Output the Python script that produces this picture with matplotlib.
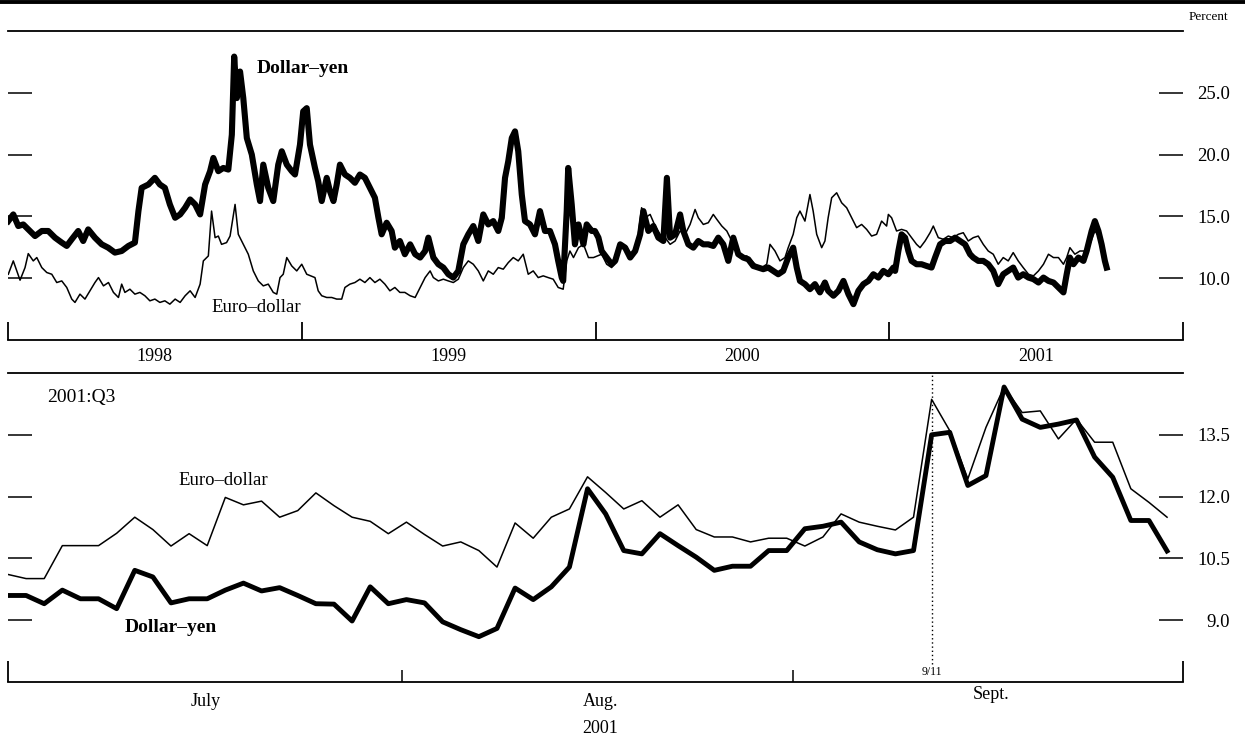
import numpy as np
import pandas as pd
import matplotlib
matplotlib.use('Agg')
import matplotlib.pyplot as plt
from matplotlib.lines import Line2D
from matplotlib.ticker import FormatStrFormatter

plt.rcParams['font.family'] = ['Liberation Serif', 'DejaVu Serif']

# ---- implied volatility, 1998 - 2001:Q3 (decimal year, percent) ----
dy_long_t = [
    1998.001, 1998.018, 1998.035, 1998.052, 1998.069, 1998.092, 1998.115, 1998.137,
    1998.160, 1998.183, 1998.200, 1998.217, 1998.239, 1998.256, 1998.273, 1998.296,
    1998.319, 1998.341, 1998.364, 1998.387, 1998.410, 1998.432, 1998.444, 1998.455,
    1998.478, 1998.500, 1998.517, 1998.534, 1998.551, 1998.569, 1998.586, 1998.603,
    1998.620, 1998.637, 1998.654, 1998.671, 1998.688, 1998.699, 1998.716, 1998.733,
    1998.750, 1998.762, 1998.770, 1998.779, 1998.790, 1998.801, 1998.813, 1998.830,
    1998.847, 1998.858, 1998.869, 1998.886, 1998.903, 1998.920, 1998.932, 1998.949,
    1998.966, 1998.977, 1998.994, 1999.005, 1999.017, 1999.028, 1999.045, 1999.056,
    1999.068, 1999.085, 1999.096, 1999.108, 1999.119, 1999.130, 1999.147, 1999.164,
    1999.181, 1999.198, 1999.215, 1999.232, 1999.249, 1999.261, 1999.272, 1999.289,
    1999.306, 1999.317, 1999.334, 1999.351, 1999.369, 1999.386, 1999.403, 1999.420,
    1999.431, 1999.448, 1999.465, 1999.482, 1999.499, 1999.516, 1999.533, 1999.550,
    1999.567, 1999.584, 1999.601, 1999.618, 1999.635, 1999.652, 1999.669, 1999.681,
    1999.692, 1999.703, 1999.715, 1999.726, 1999.737, 1999.749, 1999.760, 1999.777,
    1999.794, 1999.811, 1999.828, 1999.845, 1999.862, 1999.873, 1999.885, 1999.890,
    1999.902, 1999.907, 1999.919, 1999.930, 1999.942, 1999.959, 1999.970, 1999.987,
    1999.998, 2000.010, 2000.021, 2000.038, 2000.055, 2000.067, 2000.084, 2000.101,
    2000.118, 2000.135, 2000.152, 2000.163, 2000.180, 2000.197, 2000.214, 2000.231,
    2000.243, 2000.254, 2000.271, 2000.288, 2000.299, 2000.316, 2000.333, 2000.350,
    2000.367, 2000.384, 2000.401, 2000.418, 2000.435, 2000.452, 2000.469, 2000.486,
    2000.503, 2000.520, 2000.537, 2000.554, 2000.571, 2000.588, 2000.605, 2000.622,
    2000.639, 2000.656, 2000.673, 2000.685, 2000.696, 2000.713, 2000.730, 2000.747,
    2000.764, 2000.781, 2000.792, 2000.810, 2000.827, 2000.844, 2000.861, 2000.878,
    2000.895, 2000.912, 2000.929, 2000.946, 2000.963, 2000.980, 2000.997, 2001.014,
    2001.020, 2001.031, 2001.042, 2001.054, 2001.065, 2001.076, 2001.093, 2001.110,
    2001.127, 2001.144, 2001.156, 2001.173, 2001.190, 2001.207, 2001.224, 2001.241,
    2001.258, 2001.275, 2001.286, 2001.303, 2001.320, 2001.337, 2001.354, 2001.371,
    2001.388, 2001.405, 2001.422, 2001.439, 2001.456, 2001.474, 2001.491, 2001.508,
    2001.525, 2001.542, 2001.559, 2001.576, 2001.593, 2001.604, 2001.615, 2001.627,
    2001.644, 2001.661, 2001.672, 2001.689, 2001.700, 2001.712, 2001.723, 2001.734,
    2001.740,
]
dy_long_v = [
    14.62, 15.16, 14.22, 14.35, 13.95, 13.41, 13.82, 13.82,
    13.28, 12.88, 12.61, 13.15, 13.82, 13.01, 13.95, 13.28,
    12.74, 12.47, 12.07, 12.20, 12.61, 12.88, 15.43, 17.31,
    17.58, 18.12, 17.58, 17.31, 15.97, 14.89, 15.16, 15.70,
    16.37, 15.97, 15.16, 17.58, 18.66, 19.73, 18.66, 18.92,
    18.79, 21.61, 27.93, 24.57, 26.72, 24.57, 21.34, 20.00,
    17.58, 16.24, 19.19, 17.31, 16.24, 19.19, 20.27, 19.19,
    18.66, 18.39, 20.81, 23.50, 23.76, 20.81, 18.92, 17.85,
    16.24, 18.12, 17.04, 16.24, 17.58, 19.19, 18.39, 18.12,
    17.72, 18.39, 18.12, 17.31, 16.51, 14.89, 13.55, 14.49,
    13.82, 12.47, 13.01, 11.94, 12.74, 11.94, 11.67, 12.20,
    13.28, 11.67, 11.13, 10.86, 10.32, 10.05, 10.59, 12.74,
    13.55, 14.22, 13.01, 15.16, 14.35, 14.62, 13.82, 14.89,
    18.12, 19.46, 21.34, 21.88, 20.27, 16.77, 14.62, 14.35,
    13.55, 15.43, 13.82, 13.82, 12.74, 11.40, 10.05, 9.78,
    15.43, 18.92, 15.97, 12.74, 14.35, 12.74, 14.35, 13.82,
    13.82, 13.28, 12.20, 11.67, 11.13, 11.40, 12.74, 12.47,
    11.67, 12.20, 13.55, 15.43, 13.82, 14.22, 13.28, 13.01,
    18.12, 13.28, 13.55, 15.16, 13.82, 12.74, 12.47, 13.01,
    12.74, 12.74, 12.61, 13.28, 12.74, 11.40, 13.28, 11.94,
    11.67, 11.53, 10.99, 10.86, 10.73, 10.86, 10.59, 10.32,
    10.59, 11.67, 12.47, 10.86, 9.78, 9.52, 9.11, 9.52,
    8.85, 9.65, 8.98, 8.58, 8.98, 9.78, 8.71, 7.90,
    8.98, 9.52, 9.78, 10.32, 10.05, 10.59, 10.32, 10.86,
    10.59, 12.20, 13.55, 13.28, 12.20, 11.40, 11.13, 11.13,
    10.99, 10.86, 11.67, 12.74, 13.01, 13.01, 13.28, 13.01,
    12.74, 11.94, 11.67, 11.40, 11.40, 11.13, 10.59, 9.52,
    10.32, 10.59, 10.86, 10.05, 10.32, 10.05, 9.92, 9.65,
    10.05, 9.78, 9.65, 9.25, 8.85, 10.32, 11.67, 11.13,
    11.67, 11.40, 12.20, 13.82, 14.62, 13.82, 12.74, 11.40,
    10.86,
]

ed_long_t = [
    1998.001, 1998.018, 1998.041, 1998.058, 1998.069, 1998.086, 1998.098, 1998.115,
    1998.132, 1998.149, 1998.166, 1998.183, 1998.200, 1998.217, 1998.228, 1998.245,
    1998.262, 1998.279, 1998.296, 1998.308, 1998.325, 1998.342, 1998.359, 1998.376,
    1998.387, 1998.398, 1998.415, 1998.432, 1998.449, 1998.466, 1998.483, 1998.500,
    1998.517, 1998.534, 1998.551, 1998.569, 1998.586, 1998.603, 1998.620, 1998.637,
    1998.654, 1998.665, 1998.682, 1998.693, 1998.705, 1998.716, 1998.727, 1998.744,
    1998.756, 1998.773, 1998.784, 1998.801, 1998.818, 1998.835, 1998.852, 1998.869,
    1998.886, 1998.903, 1998.915, 1998.926, 1998.937, 1998.949, 1998.966, 1998.983,
    1999.000, 1999.017, 1999.045, 1999.056, 1999.068, 1999.085, 1999.102, 1999.119,
    1999.136, 1999.147, 1999.164, 1999.181, 1999.198, 1999.215, 1999.232, 1999.249,
    1999.266, 1999.283, 1999.300, 1999.317, 1999.334, 1999.351, 1999.369, 1999.386,
    1999.403, 1999.420, 1999.437, 1999.448, 1999.465, 1999.482, 1999.499, 1999.516,
    1999.533, 1999.550, 1999.567, 1999.584, 1999.601, 1999.618, 1999.635, 1999.652,
    1999.669, 1999.686, 1999.703, 1999.720, 1999.737, 1999.754, 1999.771, 1999.788,
    1999.805, 1999.822, 1999.839, 1999.856, 1999.873, 1999.890, 1999.902, 1999.913,
    1999.925, 1999.942, 1999.959, 1999.976, 1999.993, 2000.021, 2000.038, 2000.055,
    2000.072, 2000.089, 2000.106, 2000.123, 2000.140, 2000.157, 2000.169, 2000.186,
    2000.203, 2000.220, 2000.237, 2000.254, 2000.271, 2000.288, 2000.305, 2000.322,
    2000.339, 2000.350, 2000.367, 2000.384, 2000.401, 2000.413, 2000.430, 2000.447,
    2000.464, 2000.481, 2000.498, 2000.515, 2000.532, 2000.549, 2000.566, 2000.583,
    2000.594, 2000.611, 2000.628, 2000.645, 2000.656, 2000.673, 2000.685, 2000.696,
    2000.713, 2000.730, 2000.741, 2000.753, 2000.770, 2000.781, 2000.792, 2000.804,
    2000.821, 2000.838, 2000.855, 2000.872, 2000.889, 2000.906, 2000.923, 2000.940,
    2000.957, 2000.974, 2000.991, 2000.997, 2001.008, 2001.025, 2001.042, 2001.059,
    2001.076, 2001.093, 2001.105, 2001.122, 2001.139, 2001.150, 2001.167, 2001.184,
    2001.201, 2001.218, 2001.235, 2001.252, 2001.269, 2001.286, 2001.303, 2001.320,
    2001.337, 2001.354, 2001.371, 2001.388, 2001.405, 2001.422, 2001.439, 2001.456,
    2001.474, 2001.491, 2001.508, 2001.525, 2001.542, 2001.559, 2001.576, 2001.593,
    2001.604, 2001.615, 2001.632, 2001.649, 2001.666, 2001.683, 2001.700, 2001.717,
    2001.734,
]
ed_long_v = [
    10.32, 11.40, 9.84, 10.86, 11.99, 11.40, 11.67, 10.86,
    10.46, 10.32, 9.65, 9.78, 9.25, 8.31, 8.04, 8.71,
    8.31, 8.98, 9.65, 10.05, 9.38, 9.65, 8.85, 8.44,
    9.52, 8.85, 9.11, 8.71, 8.85, 8.58, 8.17, 8.31,
    8.04, 8.17, 7.90, 8.31, 8.04, 8.58, 8.98, 8.44,
    9.52, 11.40, 11.80, 15.43, 13.28, 13.41, 12.74, 12.88,
    13.41, 15.97, 13.55, 12.74, 11.94, 10.59, 9.78, 9.38,
    9.52, 8.85, 8.71, 10.05, 10.32, 11.67, 10.99, 10.59,
    11.13, 10.32, 10.05, 8.98, 8.58, 8.44, 8.44, 8.31,
    8.31, 9.25, 9.52, 9.65, 9.92, 9.65, 10.05, 9.65,
    9.92, 9.52, 8.98, 9.25, 8.85, 8.85, 8.58, 8.44,
    9.25, 10.05, 10.59, 10.05, 9.78, 9.92, 9.78, 9.65,
    9.92, 10.86, 11.40, 11.13, 10.59, 9.78, 10.59, 10.32,
    10.86, 10.73, 11.26, 11.67, 11.40, 11.94, 10.32, 10.59,
    10.05, 10.19, 10.05, 9.92, 9.25, 9.11, 11.40, 12.20,
    11.67, 12.47, 12.74, 11.67, 11.67, 11.94, 11.13, 10.86,
    11.40, 12.74, 12.47, 11.94, 12.47, 15.70, 14.89, 15.16,
    14.22, 13.55, 13.28, 12.74, 13.01, 13.82, 13.55, 14.35,
    15.56, 14.89, 14.35, 14.49, 15.16, 14.76, 14.22, 13.82,
    13.01, 12.07, 11.67, 11.80, 11.40, 10.99, 10.86, 11.13,
    12.74, 12.20, 11.40, 11.67, 12.47, 13.55, 14.89, 15.43,
    14.62, 16.77, 15.43, 13.55, 12.47, 13.01, 14.89, 16.51,
    16.91, 16.10, 15.70, 14.89, 14.09, 14.35, 13.95, 13.41,
    13.55, 14.62, 14.22, 15.16, 14.89, 13.82, 13.95, 13.82,
    13.28, 12.74, 12.47, 13.01, 13.68, 14.22, 13.28, 13.15,
    13.41, 13.28, 13.55, 13.68, 13.01, 13.28, 13.41, 12.74,
    12.20, 11.94, 11.13, 11.67, 11.40, 12.07, 11.40, 10.86,
    10.32, 10.19, 10.59, 11.13, 11.94, 11.67, 11.67, 11.13,
    11.67, 12.47, 11.94, 12.20, 12.20, 12.74, 13.82, 13.28,
    11.94,
]

# ---- 2001:Q3 daily, business days July 2 - Sept. 28 ----
q3_days = pd.bdate_range('2001-07-02', '2001-09-28')
dy_q3 = [
    9.60, 9.60, 9.40, 9.73, 9.52, 9.52, 9.28, 10.21, 10.05, 9.42, 9.52, 9.52,
    9.73, 9.90, 9.71, 9.79, 9.60, 9.40, 9.39, 8.98, 9.81, 9.40, 9.50,
    9.42, 8.96, 8.77, 8.60, 8.80, 9.78, 9.50, 9.81, 10.29, 12.19, 11.58, 10.69,
    10.61, 11.10, 10.81, 10.53, 10.21, 10.31, 10.31, 10.69, 10.69, 11.22, 11.28,
    11.38, 10.90, 10.71, 10.61, 10.69, 13.50, 13.56, 12.27, 12.51, 14.66, 13.88,
    13.68, 13.76, 13.86, 12.96, 12.47, 11.42, 11.42, 10.68,
]
ed_q3 = [
    10.11, 10.01, 10.01, 10.81, 10.81, 10.81, 11.11, 11.50, 11.20, 10.80, 11.10,
    10.81, 11.98, 11.80, 11.89, 11.50, 11.66, 12.09, 11.78, 11.50, 11.40, 11.10,
    11.38, 11.08, 10.80, 10.90, 10.69, 10.29, 11.36, 10.99, 11.50, 11.70, 12.48,
    12.10, 11.70, 11.90, 11.50, 11.80, 11.20, 11.02, 11.02, 10.90, 10.99, 10.99,
    10.80, 11.02, 11.58, 11.38, 11.28, 11.19, 11.50, 14.36, 13.60, 12.43, 13.68,
    14.66, 14.04, 14.08, 13.40, 13.88, 13.32, 13.32, 12.19, 11.86, 11.50,
]

years = [1998, 1999, 2000, 2001]
month_names = ['July', 'Aug.', 'Sept.']
month_mid = [10.9, 32.7, 54.3]      # label centres, business-day index
month_bounds = [21.76, 43.35]       # month boundary ticks
attack_day = 51                     # Sept. 11
q3_end = 64.88

W, H = 1245, 738
fig = plt.figure(figsize=(W / 100, H / 100), dpi=100)

# rule across the top of the page
fig.add_artist(Line2D([0, 1], [1 - 2 / H, 1 - 2 / H], color='black', lw=2.8,
                      transform=fig.transFigure))


def style_axes(ax, yticks, fmt):
    for s in ['left', 'right']:
        ax.spines[s].set_visible(False)
    for s in ['top', 'bottom']:
        ax.spines[s].set_linewidth(1.3)
    ax.set_yticks(yticks)
    ax.yaxis.set_major_formatter(FormatStrFormatter(fmt))
    ax.tick_params(axis='y', direction='in', length=17.5, width=1.1,
                   left=True, right=True, labelleft=False, labelright=True,
                   labelsize=13.5, pad=34)
    for t in ax.get_yticklabels():
        t.set_horizontalalignment('right')


# ---- top panel: 1998-2001 ----
ax1 = fig.add_axes([8 / W, 1 - 340 / H, 1175 / W, 309 / H])
ax1.plot(dy_long_t, dy_long_v, color='black', lw=4.4, solid_joinstyle='round')
ax1.plot(ed_long_t, ed_long_v, color='black', lw=1.1)
ax1.set_xlim(1998, 2002)
ax1.set_ylim(5, 30)
style_axes(ax1, [10, 15, 20, 25], '%.1f')
ax1.set_xticks([1998, 1999, 2000, 2001, 2002])
ax1.set_xticks([y + 0.5 for y in years], minor=True)
ax1.set_xticklabels([str(y) for y in years], minor=True)
ax1.tick_params(axis='x', which='major', direction='in', length=13, width=1.3,
                labelbottom=False)
ax1.tick_params(axis='x', which='minor', length=0, labelsize=13, pad=6)
ax1.text(1998.848, 27.0, 'Dollar\u2013yen', fontsize=14, fontweight='bold',
         va='center', ha='left')
ax1.text(1998.694, 7.6, 'Euro\u2013dollar', fontsize=13.5, va='center', ha='left')
fig.text(1228 / W, 1 - 17 / H, 'Percent', fontsize=9.5, ha='right', va='center')

# ---- bottom panel: 2001:Q3 ----
ax2 = fig.add_axes([8 / W, 1 - 682 / H, 1175 / W, 309 / H])
xq = np.arange(len(q3_days))
ax2.plot(xq, dy_q3, color='black', lw=3.5, solid_joinstyle='round')
ax2.plot(xq, ed_q3, color='black', lw=1.1)
ax2.set_xlim(0, q3_end)
ax2.set_ylim(7.5, 15)
style_axes(ax2, [9.0, 10.5, 12.0, 13.5], '%.1f')
ax2.set_xticks([0, q3_end])
ax2.set_xticks(month_bounds, minor=True)
ax2.tick_params(axis='x', which='major', direction='in', length=15, width=1.3,
                labelbottom=False)
ax2.tick_params(axis='x', which='minor', direction='in', length=9, width=1.1,
                labelbottom=False)
xt = ax2.get_xaxis_transform()
for name, pos in zip(month_names, month_mid):
    yoff = -0.012 if name == 'Sept.' else -0.036
    ax2.text(pos, yoff, name, transform=xt, ha='center', va='top', fontsize=13)
ax2.text(month_mid[1], -0.122, '2001', transform=xt, ha='center', va='top',
         fontsize=13)
ax2.plot([attack_day, attack_day], [(682 - 664) / 309, 1], transform=xt,
         color='black', lw=1.0, ls=(0, (1, 2)))
ax2.text(attack_day, (682 - 672) / 309, '9/11', transform=xt, ha='center',
         va='center', fontsize=8.5)
ax2.text(2.15, 14.40, '2001:Q3', fontsize=14, va='center', ha='left')
ax2.text(11.9, 12.39, 'Euro\u2013dollar', fontsize=13.5, va='center', ha='center')
ax2.text(9.0, 8.83, 'Dollar\u2013yen', fontsize=14, fontweight='bold',
         va='center', ha='center')

fig.savefig('out.png', dpi=100)
